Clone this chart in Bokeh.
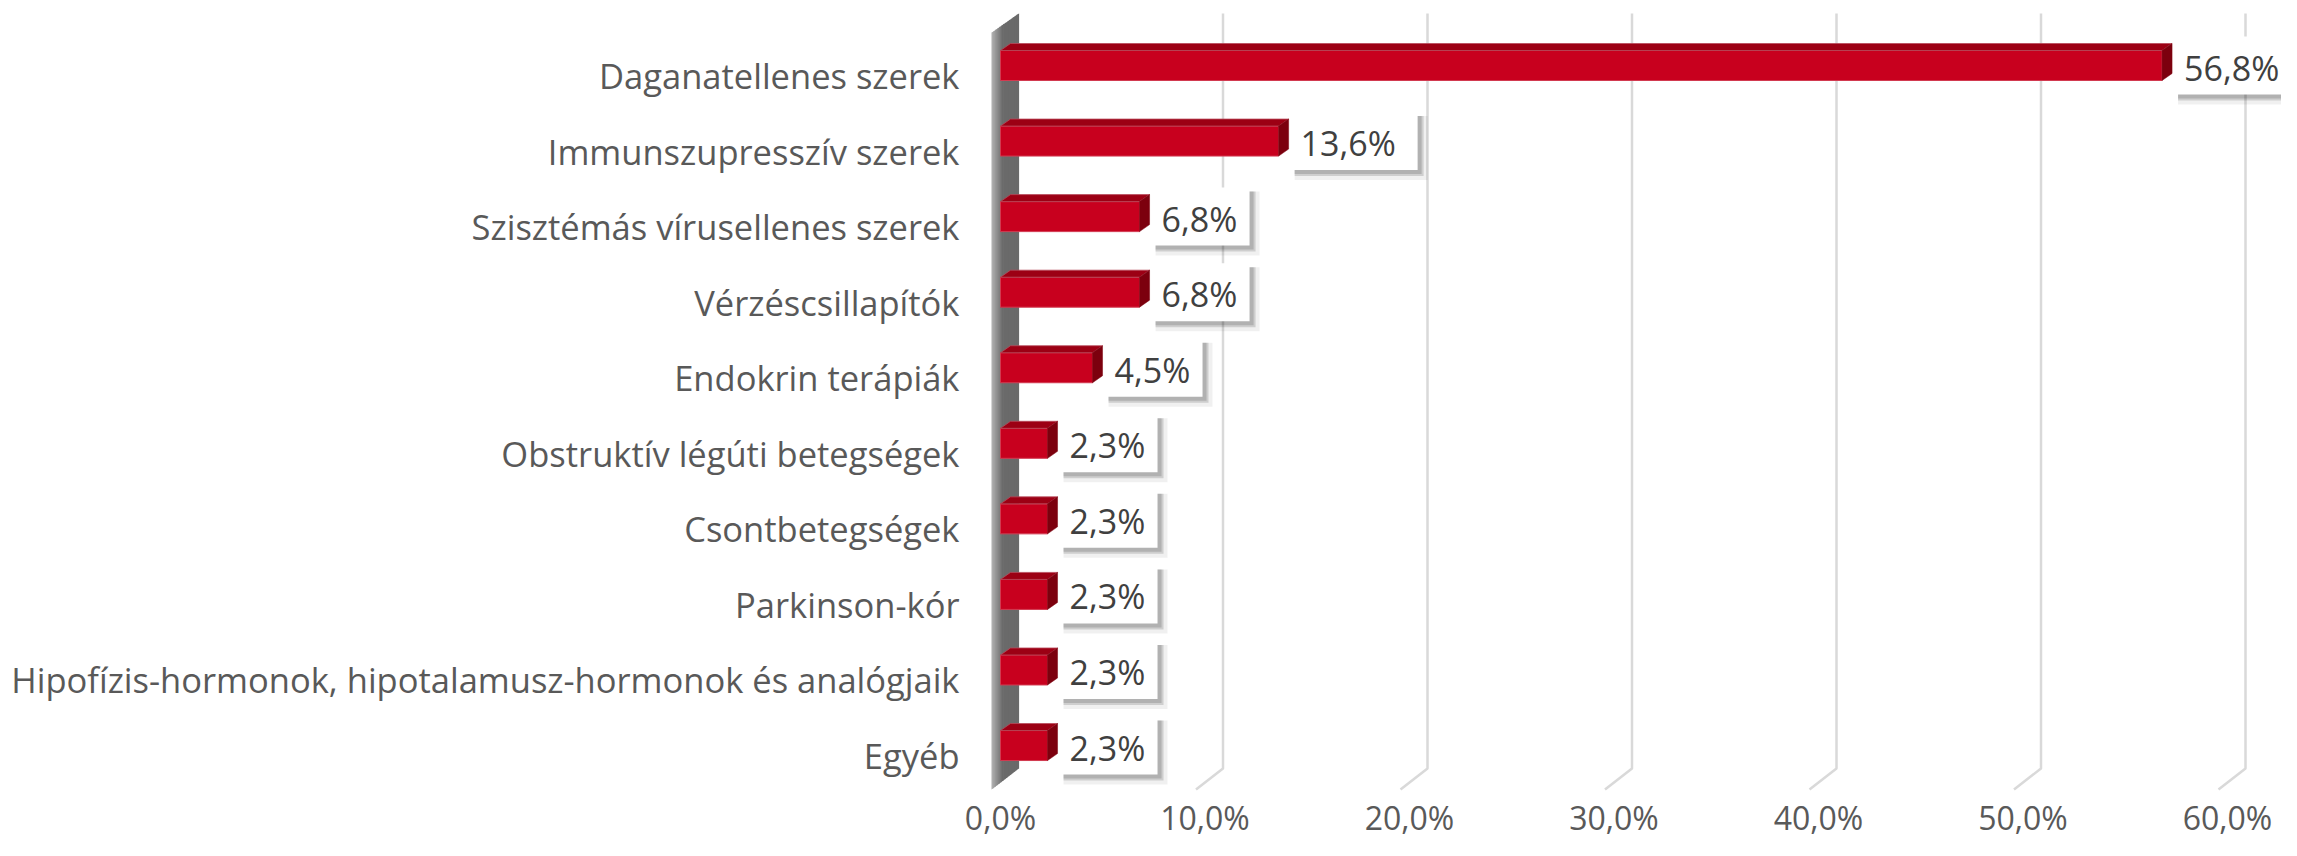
from bokeh.plotting import figure
from bokeh.models import Range1d, ColumnDataSource
from bokeh.embed import file_html
from bokeh.resources import INLINE
from bokeh.core.properties import value

# ---------------- data ----------------
categories = [
    "Daganatellenes szerek",
    "Immunszupresszív szerek",
    "Szisztémás vírusellenes szerek",
    "Vérzéscsillapítók",
    "Endokrin terápiák",
    "Obstruktív légúti betegségek",
    "Csontbetegségek",
    "Parkinson-kór",
    "Hipofízis-hormonok, hipotalamusz-hormonok és analógjaik",
    "Egyéb",
]
values = [56.8, 13.6, 6.8, 6.8, 4.5, 2.3, 2.3, 2.3, 2.3, 2.3]
x_ticks = [0, 10, 20, 30, 40, 50, 60]
x_tick_labels = ["0,0%", "10,0%", "20,0%", "30,0%", "40,0%", "50,0%", "60,0%"]
value_labels = [f"{v:.1f}".replace(".", ",") + "%" for v in values]

# ---------------- layout (pixels) ----------------
W, H = 2281, 840
X0_PX = 1000          # screen x of value 0
PX_PER_PCT = 20.45
ROW = 75.56
FIRST = 65
LABEL_DY = 10
LABEL_RIGHT = 959
TICK_Y = 817

def dx(px):
    return px / PX_PER_PCT

def vy(fig_y):
    return (fig_y - FIRST) / ROW

def dy(px):
    return px / ROW

x_range = Range1d(start=-X0_PX / PX_PER_PCT, end=(W - X0_PX) / PX_PER_PCT)
y_range = Range1d(start=vy(H), end=vy(0))

FONT = value("Open Sans")

p = figure(width=W, height=H, x_range=x_range, y_range=y_range,
           output_backend="svg", toolbar_location=None,
           min_border_left=0, min_border_right=0, min_border_top=0,
           min_border_bottom=0, x_axis_location=None, y_axis_location=None,
           background_fill_color="white", border_fill_color="white")
p.outline_line_color = None
p.xgrid.visible = False
p.ygrid.visible = False

idx = list(range(len(categories)))

# category labels
p.text(x=[dx(LABEL_RIGHT - X0_PX)] * len(categories),
       y=[i + dy(LABEL_DY) for i in idx], text=categories,
       text_font=FONT, text_font_size="34.5px", text_color="#595959",
       text_align="right", text_baseline="middle")

# ---------------- back wall + gridlines ----------------
FRONT = -9   # px offset of front plane from bar face
BACK = 18    # px offset of back plane
wall_top_back, wall_top_front = 13, 32
wall_bot_back, wall_bot_front = 768, 789
N = 14
wx, wy, wc = [], [], []
def lerp(a, b, t):
    return a + (b - a) * t
for k in range(N):
    t0, t1 = k / N, (k + 1) / N
    xa = lerp(FRONT, BACK, t0)
    xb = lerp(FRONT, BACK, t1)
    ta = lerp(wall_top_front, wall_top_back, t0)
    tb = lerp(wall_top_front, wall_top_back, t1)
    ba = lerp(wall_bot_front, wall_bot_back, t0)
    bb = lerp(wall_bot_front, wall_bot_back, t1)
    wx.append([dx(xa), dx(xb + 0.6), dx(xb + 0.6), dx(xa)])
    wy.append([vy(ta), vy(tb), vy(bb), vy(ba)])
    tt = min(1.0, (k + 0.5) / N / 0.4)
    g = int(lerp(0xb4, 0x6a, tt))
    wc.append("#%02x%02x%02x" % (g, g, g))
p.patches(wx, wy, fill_color=wc, line_color=None)

gx, gy = [], []
for t in x_ticks[1:]:
    gx.append([t + dx(BACK), t + dx(BACK), t + dx(FRONT)])
    gy.append([vy(wall_top_back), vy(wall_bot_back), vy(wall_bot_front)])
p.multi_line(gx, gy, line_color="#d9d9d9", line_width=2.5)

# x tick labels
p.text(x=x_ticks, y=[vy(TICK_Y)] * len(x_ticks), text=x_tick_labels,
       text_font=FONT, text_font_size="32px", text_color="#595959",
       text_align="center", text_baseline="middle")

# ---------------- 3D bars ----------------
HALF = 15
DX3, DY3 = 10, 7
front_src = ColumnDataSource(dict(
    left=[0.0] * len(values), right=values,
    top=[i - dy(HALF) for i in idx], bottom=[i + dy(HALF) for i in idx]))
p.quad(left="left", right="right", top="top", bottom="bottom", source=front_src,
       fill_color="#c8001e", line_color="#d23a50", line_width=1)

top_x, top_y, side_x, side_y = [], [], [], []
for i, v in zip(idx, values):
    yt = i - dy(HALF)
    yb = i + dy(HALF)
    top_x.append([0, v, v + dx(DX3), dx(DX3)])
    top_y.append([yt, yt, yt - dy(DY3), yt - dy(DY3)])
    side_x.append([v, v + dx(DX3), v + dx(DX3), v])
    side_y.append([yt, yt - dy(DY3), yb - dy(DY3), yb])
p.patches(top_x, top_y, fill_color="#9c0014", line_color="#b84a5a", line_width=0.8)
p.patches(side_x, side_y, fill_color="#7c000e", line_color="#7c000e", line_width=0.5)

# ---------------- data labels ----------------
BOX_GAP = 12
BOX_H2 = 29
lefts = [v + dx(BOX_GAP) for v in values]
widths = [29 * len(s) - 18 for s in value_labels]
rights = [l + dx(w) for l, w in zip(lefts, widths)]
for off, alpha, grow in [(7, 0.06, 3), (5, 0.14, 1), (4, 0.14, 0)]:
    p.quad(left=[l + dx(off - grow) for l in lefts],
           right=[r + dx(off + grow) for r in rights],
           top=[i - dy(BOX_H2 - off + grow) for i in idx],
           bottom=[i + dy(BOX_H2 + off + grow) for i in idx],
           fill_color="#000000", fill_alpha=alpha, line_color=None)
p.quad(left=lefts, right=rights,
       top=[i - dy(BOX_H2) for i in idx], bottom=[i + dy(BOX_H2) for i in idx],
       fill_color="white", line_color=None)
p.text(x=[l + dx(10) for l in lefts], y=[i + dy(2) for i in idx], text=value_labels,
       text_font=FONT, text_font_size="34px", text_color="#404040",
       text_align="left", text_baseline="middle")

open("out.html", "w").write(file_html(p, INLINE))
